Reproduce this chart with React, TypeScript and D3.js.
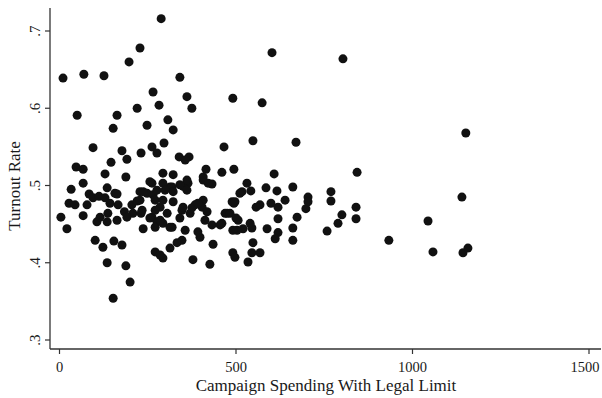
import React, { useEffect, useRef } from 'react';
import * as d3 from 'd3';

// campaign spending (with legal limit) for each district
const spending = [
  10, 69, 126, 197, 228, 288, 341, 265, 282, 361, 375, 50, 220, 163, 152, 248, 307, 322, 95, 177,
  191, 231, 262, 276, 296, 339, 367, 356, 146, 47, 67, 129, 188, 67, 33, 262, 293, 322, 313, 364,
  350, 157, 228, 602, 803, 491, 574, 466, 548, 670, 843, 460, 494, 608, 415, 407, 432, 361, 531, 517,
  542, 585, 616, 661, 704, 769, 769, 840, 840, 800, 789, 758, 698, 639, 619, 599, 568, 557, 494, 475,
  619, 673, 661, 619, 611, 661, 588, 540, 545, 520, 503, 506, 548, 545, 568, 534, 491, 497, 435, 378,
  426, 460, 1151, 1140, 1044, 933, 1058, 1143, 1157, 27, 44, 4, 21, 67, 84, 95, 78, 112, 135, 129,
  143, 163, 166, 106, 115, 137, 135, 163, 184, 205, 220, 208, 231, 237, 248, 265, 262, 276, 271, 293,
  285, 305, 322, 313, 347, 356, 101, 123, 154, 177, 135, 188, 200, 152, 271, 293, 285, 313, 333, 347,
  191, 407, 421, 256, 276, 293, 319, 341, 361, 322, 299, 237, 228, 271, 293, 350, 384, 407, 404, 489,
  511, 497, 398, 392, 412, 432, 455, 469, 418, 370, 341, 319, 256, 285, 234, 271, 375, 392, 491, 483,
  500, 704
];

// turnout rate, same order
const turnout = [
  .639, .644, .642, .660, .678, .716, .640, .621, .604, .615, .600, .591, .600, .591, .574, .578, .585, .572, .549, .545,
  .534, .542, .550, .542, .555, .537, .537, .533, .530, .524, .521, .515, .511, .503, .495, .503, .516, .514, .498, .503,
  .499, .490, .492, .672, .664, .613, .607, .550, .558, .556, .517, .517, .521, .515, .521, .507, .502, .507, .503, .492,
  .493, .497, .493, .498, .485, .492, .480, .472, .457, .462, .451, .441, .470, .481, .472, .477, .475, .472, .477, .464,
  .457, .459, .445, .439, .431, .429, .444, .451, .445, .444, .442, .455, .426, .413, .413, .401, .413, .407, .424, .404,
  .398, .451, .568, .485, .454, .429, .414, .413, .419, .477, .475, .459, .444, .461, .489, .484, .475, .486, .497, .484,
  .477, .489, .475, .453, .459, .464, .453, .455, .466, .475, .480, .464, .464, .444, .490, .488, .459, .453, .446, .451,
  .472, .464, .479, .446, .468, .442, .429, .420, .428, .423, .400, .396, .375, .354, .414, .406, .410, .419, .426, .429,
  .459, .511, .503, .505, .494, .503, .498, .501, .494, .492, .494, .492, .481, .481, .481, .472, .475, .481, .472, .479,
  .490, .479, .433, .440, .455, .449, .449, .464, .466, .464, .458, .446, .458, .455, .468, .468, .471, .477, .442, .464,
  .458, .479
];

const xTicks = [0, 500, 1000, 1500];
const yTicks = [.3, .4, .5, .6, .7];

const width = 602;
const height = 398;

function App() {
  const ref = useRef<SVGSVGElement>(null);

  useEffect(() => {
    const svg = d3.select(ref.current);
    svg.selectAll('*').remove();

    const font = '"Liberation Serif", "Times New Roman", serif';
    const x = d3.scaleLinear().domain([0, 1500]).range([59.5, 589]);
    const y = d3.scaleLinear().domain([.3, .7]).range([340, 31]);

    // points
    svg.append('g')
      .selectAll('circle')
      .data(d3.range(spending.length))
      .enter()
      .append('circle')
      .attr('cx', i => x(spending[i]))
      .attr('cy', i => y(turnout[i]))
      .attr('r', 4.5)
      .attr('fill', '#111');

    // x axis
    const xAxis = svg.append('g').attr('transform', 'translate(0,349)');
    xAxis.append('line')
      .attr('x1', 50).attr('x2', 601)
      .attr('stroke', '#333').attr('stroke-width', 1.3);
    xAxis.selectAll('.tick')
      .data(xTicks)
      .enter()
      .append('line')
      .attr('x1', d => x(d)).attr('x2', d => x(d))
      .attr('y1', 0).attr('y2', 5)
      .attr('stroke', '#333').attr('stroke-width', 1.2);
    xAxis.selectAll('.lbl')
      .data(xTicks)
      .enter()
      .append('text')
      .attr('x', d => Math.min(x(d), width - 17))
      .attr('y', 23)
      .attr('text-anchor', 'middle')
      .attr('font-family', font)
      .attr('font-size', 14.5)
      .attr('fill', '#1a1a1a')
      .text(d => d3.format('d')(d));

    svg.append('text')
      .attr('x', 326)
      .attr('y', 391)
      .attr('text-anchor', 'middle')
      .attr('font-family', font)
      .attr('font-size', 17)
      .attr('fill', '#1a1a1a')
      .text('Campaign Spending With Legal Limit');

    // y axis
    const yAxis = svg.append('g').attr('transform', 'translate(50,0)');
    yAxis.append('line')
      .attr('y1', 8).attr('y2', 349)
      .attr('stroke', '#333').attr('stroke-width', 1.3);
    yAxis.selectAll('.tick')
      .data(yTicks)
      .enter()
      .append('line')
      .attr('y1', d => y(d)).attr('y2', d => y(d))
      .attr('x1', -5).attr('x2', 0)
      .attr('stroke', '#333').attr('stroke-width', 1.2);
    yAxis.selectAll('.lbl')
      .data(yTicks)
      .enter()
      .append('text')
      .attr('transform', d => `translate(-10,${y(d)}) rotate(-90)`)
      .attr('text-anchor', 'middle')
      .attr('font-family', font)
      .attr('font-size', 15)
      .attr('fill', '#1a1a1a')
      .text(d => d3.format('.1f')(d).replace(/^0/, ''));

    svg.append('text')
      .attr('transform', 'translate(20,186) rotate(-90)')
      .attr('text-anchor', 'middle')
      .attr('font-family', font)
      .attr('font-size', 17)
      .attr('fill', '#1a1a1a')
      .text('Turnout Rate');
  }, []);

  return (
    <svg
      ref={ref}
      width={width}
      height={height}
      style={{ position: 'absolute', left: 0, top: 0, background: '#fff' }}
    />
  );
}

export default App;
